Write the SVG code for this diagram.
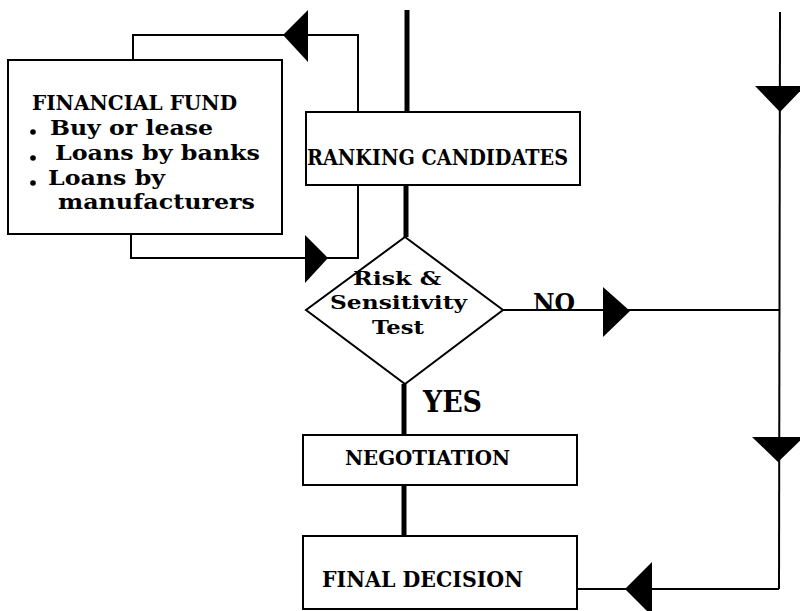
<svg xmlns="http://www.w3.org/2000/svg" width="800" height="611" viewBox="0 0 800 611">
  <style>
    .box { fill: #fff; stroke: #000; stroke-width: 2; }
    .thin { fill: none; stroke: #000; stroke-width: 2; }
    .spine { fill: none; stroke: #000; stroke-width: 5; }
    .head { fill: #000; stroke: none; }
    text { font-family: "DejaVu Serif", "Liberation Serif", serif; font-weight: bold; fill: #000; }
  </style>
  <rect width="800" height="611" fill="#fff"/>

  <!-- connectors -->
  <g id="connectors">
    <!-- funding loop around the ranking step -->
    <polyline class="thin" points="133,60 133,35 358,35 358,258 131,258 131,234"/>
    <polygon class="head" points="283,35 308,10 308,62"/>
    <polygon class="head" points="328,258 305,235 305,283"/>
    <!-- main spine -->
    <line class="spine" x1="407" y1="10" x2="407" y2="112"/>
    <line class="spine" x1="406" y1="185" x2="406" y2="237"/>
    <line class="spine" x1="404" y1="384" x2="404" y2="435"/>
    <line class="spine" x1="404" y1="485" x2="404" y2="536"/>
    <!-- NO branch back down the right side -->
    <line class="thin" x1="503" y1="310" x2="780" y2="310"/>
    <polygon class="head" points="630,311 603,287 603,337"/>
    <line class="thin" x1="780" y1="12" x2="779" y2="589"/>
    <polygon class="head" points="780,112 755,86 805,86"/>
    <polygon class="head" points="778,462 752,437 804,437"/>
    <line class="thin" x1="779" y1="589" x2="577" y2="589"/>
    <polygon class="head" points="625,589 652,562 652,616"/>
    <!-- branch labels -->
    <text x="533" y="311" font-size="24" textLength="42" lengthAdjust="spacingAndGlyphs">NO</text>
    <text x="423" y="412" font-size="29" textLength="59" lengthAdjust="spacingAndGlyphs">YES</text>
  </g>

  <g id="financial-fund">
    <rect class="box" x="8" y="60" width="274" height="174"/>
    <text x="32" y="110" font-size="21" textLength="205" lengthAdjust="spacingAndGlyphs">FINANCIAL FUND</text>
    <circle cx="33" cy="132" r="2.8"/>
    <text x="50" y="135" font-size="20" textLength="163" lengthAdjust="spacingAndGlyphs">Buy or lease</text>
    <circle cx="33" cy="158" r="2.8"/>
    <text x="55" y="160" font-size="20" textLength="205" lengthAdjust="spacingAndGlyphs">Loans by banks</text>
    <circle cx="33" cy="183" r="2.8"/>
    <text x="48" y="185" font-size="20" textLength="117" lengthAdjust="spacingAndGlyphs">Loans by</text>
    <text x="58" y="209" font-size="20" textLength="197" lengthAdjust="spacingAndGlyphs">manufacturers</text>
  </g>

  <g id="ranking-candidates">
    <rect class="box" x="306" y="112" width="274" height="73"/>
    <text x="307" y="165" font-size="23" textLength="261" lengthAdjust="spacingAndGlyphs">RANKING CANDIDATES</text>
  </g>

  <g id="risk-test">
    <polygon class="box" points="405,237 503,310 405,384 306,310"/>
    <text x="353" y="285" font-size="19" textLength="88" lengthAdjust="spacingAndGlyphs">Risk &amp;</text>
    <text x="330" y="309" font-size="19" textLength="137" lengthAdjust="spacingAndGlyphs">Sensitivity</text>
    <text x="372" y="334" font-size="19" textLength="52" lengthAdjust="spacingAndGlyphs">Test</text>
  </g>

  <g id="negotiation">
    <rect class="box" x="303" y="435" width="274" height="50"/>
    <text x="345" y="465" font-size="20" textLength="165" lengthAdjust="spacingAndGlyphs">NEGOTIATION</text>
  </g>

  <g id="final-decision">
    <rect class="box" x="303" y="536" width="274" height="73"/>
    <text x="322" y="587" font-size="22" textLength="201" lengthAdjust="spacingAndGlyphs">FINAL DECISION</text>
  </g>
</svg>
